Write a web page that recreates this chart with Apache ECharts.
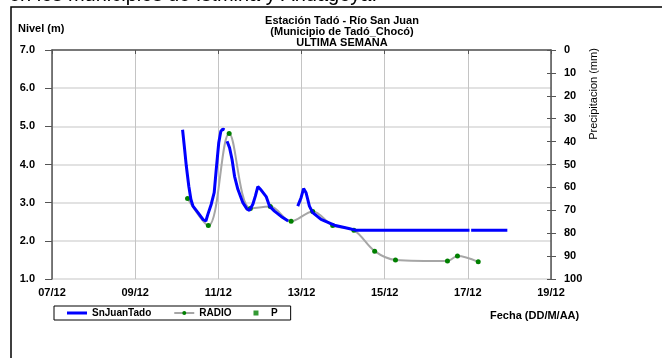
<!DOCTYPE html>
<html>
<head>
<meta charset="utf-8">
<script src="https://cdn.jsdelivr.net/npm/echarts@6/dist/echarts.min.js"></script>
<style>
  html, body { margin: 0; padding: 0; background: #fff; }
  #chart { width: 662px; height: 358px; }
</style>
</head>
<body>
<div id="chart"></div>
<script>
// nivel del río (SnJuanTado), null = hueco en el registro
var nivelDias = [10.14, 10.19, 10.23, 10.29, 10.34, 10.39, 10.51, 10.63, 10.70, 10.75, 10.83, 10.90, 10.95, 11.01, 11.06, 11.11, 11.15, 11.18,
  11.21, 11.27, 11.33, 11.39, 11.47, 11.59, 11.69, 11.75, 11.83, 11.89, 11.95, 12.03, 12.15, 12.23, 12.35, 12.51, 12.68, 12.80,
  12.91, 12.99, 13.05, 13.11, 13.19, 13.27, 13.47, 13.79, 14.11, 14.30, 17.04, 17.06, 17.08, 17.95]
var nivelValores = [4.91, 4.39, 3.96, 3.43, 3.09, 2.91, 2.74, 2.56, 2.52, 2.70, 2.96, 3.26, 3.87, 4.57, 4.87, 4.93, 4.91, null,
  4.61, 4.44, 4.13, 3.69, 3.35, 3.00, 2.83, 2.80, 2.96, 3.17, 3.42, 3.33, 3.16, 2.91, 2.78, 2.64, 2.52, null,
  2.91, 3.13, 3.37, 3.26, 2.91, 2.74, 2.56, 2.41, 2.33, 2.28, 2.28, null, 2.28, 2.28]

// lecturas por radio
var radioDias = [10.26, 10.76, 11.26, 11.77, 12.25, 12.75, 13.27, 13.75, 14.26, 14.76, 15.26, 16.51, 16.75, 17.25]
var radioValores = [3.11, 2.40, 4.81, 2.85, 2.90, 2.51, 2.77, 2.40, 2.28, 1.73, 1.50, 1.47, 1.60, 1.45]

// precipitación (sin registros en la semana)
var precipDias = []
var precipValores = []

var fechaEtiquetas = ['07/12', '09/12', '11/12', '13/12', '15/12', '17/12', '19/12']

function pares(xs, ys) {
  var out = []
  for (var i = 0; i < xs.length; i++) out.push([xs[i], ys[i]])
  return out
}

var fuente = 'Liberation Sans, Arial, sans-serif'
var ejeColor = '#555555'
var etiqueta = { color: '#000', fontSize: 11, fontWeight: 'bold', fontFamily: fuente }

var chart = echarts.init(document.getElementById('chart'))

var option = {
  animation: false,
  title: {
    text: 'Estación Tadó - Río San Juan\n(Municipio de Tadó_Chocó)\nULTIMA SEMANA',
    left: 337,
    top: 10,
    textAlign: 'center',
    textStyle: { color: '#000', fontSize: 11, fontWeight: 'bold', fontFamily: fuente, lineHeight: 11 }
  },
  legend: {
    left: 54,
    top: 306,
    padding: [2, 13, 2, 13],
    borderColor: '#000',
    borderWidth: 1,
    itemWidth: 20,
    itemHeight: 5,
    itemGap: 22,
    textStyle: { color: '#000', fontSize: 10, fontWeight: 'bold', fontFamily: fuente },
    data: [
      { name: 'SnJuanTado', icon: 'path://M0,0h20v3h-20z' },
      'RADIO',
      { name: 'P', icon: 'path://M0,0h4v4h-4z' }
    ]
  },
  grid: { left: 52, right: 111, top: 50, bottom: 79 },
  xAxis: {
    type: 'value',
    min: 7,
    max: 19,
    interval: 2,
    axisLine: { show: true, lineStyle: { color: ejeColor, width: 1.5 } },
    axisTick: { show: true, length: 4, lineStyle: { color: ejeColor } },
    axisLabel: Object.assign({ margin: 8, formatter: function (v) { return fechaEtiquetas[(v - 7) / 2] } }, etiqueta),
    splitLine: { show: true, lineStyle: { color: '#c4c4c4', width: 1 } }
  },
  yAxis: [
    {
      type: 'value',
      position: 'left',
      min: 1,
      max: 7,
      interval: 1,
      axisLine: { show: true, lineStyle: { color: ejeColor, width: 1.5 } },
      axisTick: { show: true, length: 7, lineStyle: { color: ejeColor } },
      axisLabel: Object.assign({ margin: 17, formatter: function (v) { return v.toFixed(1) } }, etiqueta),
      splitLine: { show: true, lineStyle: { color: '#d9d9d9', width: 1.5 } }
    },
    {
      type: 'value',
      position: 'right',
      min: 0,
      max: 100,
      interval: 10,
      inverse: true,
      axisLine: { show: true, lineStyle: { color: ejeColor, width: 1.5 } },
      axisTick: { show: true, length: 5, lineStyle: { color: ejeColor } },
      axisLabel: Object.assign({ margin: 13 }, etiqueta),
      splitLine: { show: false }
    },
    {
      type: 'value',
      position: 'right',
      min: 0,
      max: 100,
      interval: 10,
      inverse: true,
      axisLine: { show: false },
      axisTick: { show: true, inside: true, length: 4, lineStyle: { color: ejeColor } },
      axisLabel: { show: false },
      splitLine: { show: false }
    }
  ],
  graphic: [
    {
      type: 'text', left: 9, top: -15, z: 1,
      style: { text: 'en los municipios de Istmina y Andagoya.', fill: '#000', font: '20px ' + fuente }
    },
    {
      type: 'rect', z: 2,
      shape: { x: 11, y: 7, width: 700, height: 400 },
      style: { fill: 'none', stroke: '#000', lineWidth: 1.5 }
    },
    {
      type: 'text', left: 18, top: 23, z: 3,
      style: { text: 'Nivel (m)', fill: '#000', font: 'bold 11px ' + fuente }
    },
    {
      type: 'text', x: 594, y: 94, rotation: Math.PI / 2, z: 3,
      style: { text: 'Precipitacion (mm)', fill: '#000', font: '11px ' + fuente, align: 'center', verticalAlign: 'middle' }
    },
    {
      type: 'text', left: 490, top: 310, z: 3,
      style: { text: 'Fecha (DD/M/AA)', fill: '#000', font: 'bold 11px ' + fuente }
    }
  ],
  series: [
    {
      name: 'RADIO',
      type: 'line',
      data: pares(radioDias, radioValores),
      smooth: 0.35,
      symbol: 'circle',
      symbolSize: 5,
      itemStyle: { color: '#008000' },
      lineStyle: { color: '#a6a6a6', width: 2 },
      z: 2
    },
    {
      name: 'SnJuanTado',
      type: 'line',
      data: pares(nivelDias, nivelValores),
      showSymbol: false,
      symbol: 'none',
      connectNulls: false,
      itemStyle: { color: '#0000ff' },
      lineStyle: { color: '#0000ff', width: 3 },
      z: 3
    },
    {
      name: 'P',
      type: 'scatter',
      yAxisIndex: 1,
      data: pares(precipDias, precipValores),
      symbol: 'rect',
      symbolSize: 4,
      itemStyle: { color: '#008000' }
    }
  ]
}

chart.setOption(option)
</script>
</body>
</html>
